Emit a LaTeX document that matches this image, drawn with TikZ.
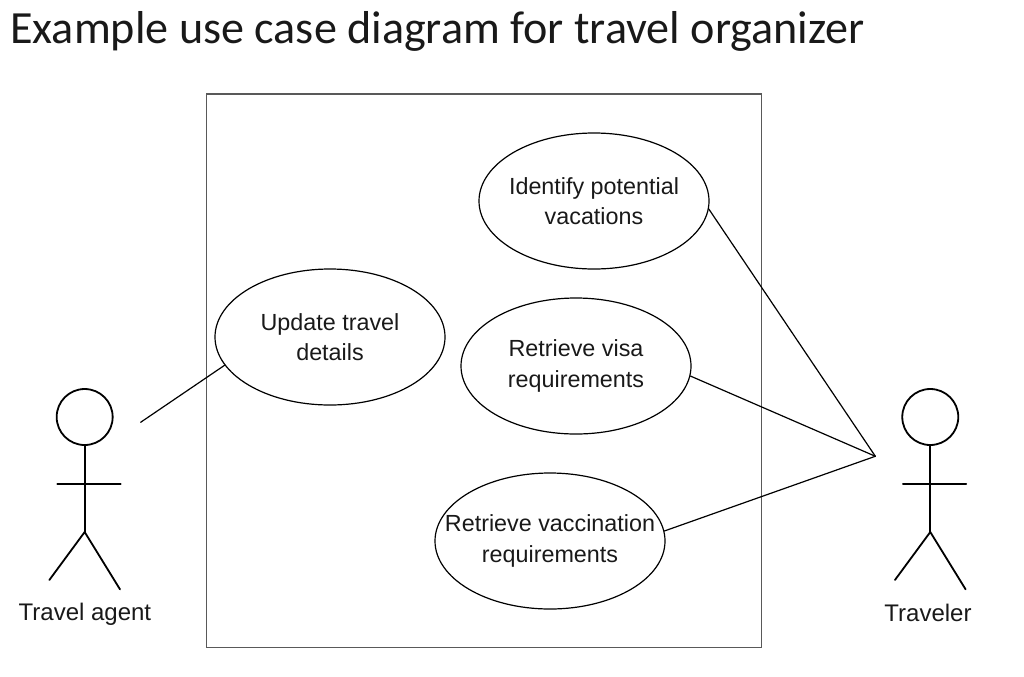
\documentclass[tikz,border=0pt]{standalone}
\usepackage{fontspec}
\setmainfont{Liberation Sans}
\newfontfamily\titlefont{Carlito}
\usetikzlibrary{shapes.geometric}
\definecolor{inktext}{gray}{0.1}
\begin{document}
\begin{tikzpicture}[x=1pt,y=-1pt,line cap=round,
	usecase/.style={ellipse,draw,line width=0.9pt,minimum width=172.5pt,minimum height=102pt,inner sep=0pt},
	casetext/.style={align=center,inner sep=0pt,text=inktext,font=\fontsize{17.5}{23}\selectfont},
	actorname/.style={text=inktext,font=\fontsize{18}{21}\selectfont,inner sep=0pt},
	stick/.style={line width=1.35pt},
	conn/.style={line width=0.9pt}]
	\useasboundingbox (0,0) rectangle (768,507);
	% 1024 px = 768 pt
	\node[anchor=west,inner sep=0pt,text=inktext,font=\titlefont\fontsize{34.6}{40}\selectfont] (title) at (7.5,23.5) {Example use case diagram for travel organizer};
	\node[draw=black!65,line width=1.1pt,minimum width=416.6pt,minimum height=415pt,inner sep=0pt] (sys) at (363,278) {};
	% use cases
	\node[usecase,label={[casetext,name=vacationstext]center:{Identify potential\\vacations}}] (vacations) at (445.5,150.75) {};
	\node[usecase,label={[casetext,name=updatetext]center:{Update travel\\details}}] (update) at (247.5,252.75) {};
	\node[usecase,label={[casetext,name=visatext]center:{Retrieve visa\\requirements}}] (visa) at (432,274.5) {};
	\node[usecase,label={[casetext,name=vaccinationtext]center:{Retrieve vaccination\\requirements}}] (vaccination) at (412.5,405.75) {};
	% actors
	\foreach \N/\X/\L/\Y/\T in {agent/63.5/63.7/461/Travel agent,traveler/697.7/696/459.5/Traveler}
	{\node[circle,draw,stick,minimum size=42pt,inner sep=0pt] (head\N) at (\X,312.75) {};
		\coordinate (hip\N) at (\X,399);
		\draw[stick] (head\N.south) -- (hip\N);
		\draw[stick] (\X-20.5,363.2) -- (\X+27,363.2);
		\draw[stick] (\X-26.5,435) -- (hip\N) -- (\X+26.5,442);
		\node[actorname] (name\N) at (\L,\Y) {\T};}
	% connectors
	\coordinate (agentend) at (105.5,316.7);
	\coordinate (travelerend) at (656.5,342.2);
	\draw[conn] (agentend) -- (update.195.6);
	\draw[conn] (vacations.-4.5) -- (travelerend);
	\draw[conn] (visa.-5) -- (travelerend);
	\draw[conn] (vaccination.5) -- (travelerend);
\end{tikzpicture}
\end{document}
